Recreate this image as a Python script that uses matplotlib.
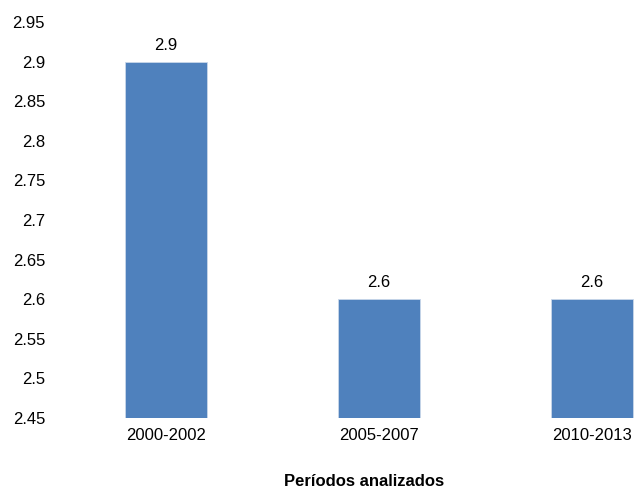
import matplotlib.pyplot as plt

plt.rcParams['font.family'] = ['Liberation Sans', 'DejaVu Sans']

periods = ["2000-2002", "2005-2007", "2010-2013"]
values = [2.9, 2.6, 2.6]
y_ticks = [2.45, 2.5, 2.55, 2.6, 2.65, 2.7, 2.75, 2.8, 2.85, 2.9, 2.95]

fig = plt.figure(figsize=(6.35, 4.91), dpi=100)
ax = fig.add_axes([59.5 / 635, 73 / 491, 575.5 / 635, 396 / 491])

x = range(len(periods))
bars = ax.bar(x, values, width=0.385, bottom=0, color='#4F81BD',
              edgecolor='#C9D7EA', linewidth=0.6)

# value labels above the bars
for xi, v in zip(x, values):
    ax.annotate(f"{v:g}", (xi, v), xytext=(0, 6.5), textcoords='offset points',
                ha='center', va='bottom', fontsize=12)

ax.set_ylim(2.45, 2.95)
ax.set_xlim(-0.5, 2.5 - 63.5 / 213)
ax.set_yticks(y_ticks)
ax.set_yticklabels([f"{t:g}" for t in y_ticks])
ax.set_xticks(list(x))
ax.set_xticklabels(periods)
ax.tick_params(axis='both', length=0, labelsize=12)
ax.tick_params(axis='y', pad=10.4)
ax.tick_params(axis='x', pad=7)
for s in ax.spines.values():
    s.set_visible(False)

fig.text(364 / 635, 1 - 482 / 491, "Períodos analizados", ha='center', va='center',
         fontsize=12, fontweight='bold')

fig.savefig("out.png", dpi=100)
